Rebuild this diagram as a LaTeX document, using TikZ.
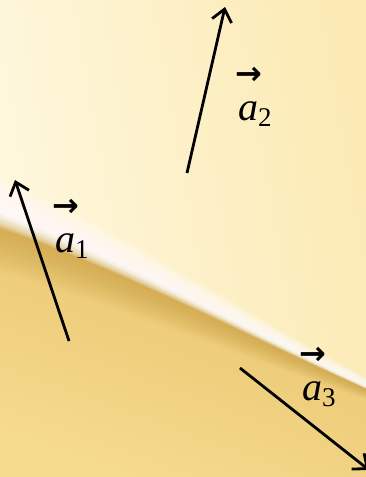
\documentclass[tikz,border=0pt]{standalone}
\usepackage{fontspec}
\setmainfont{Liberation Serif}
\newfontfamily\arrowfont{DejaVu Sans}
\usetikzlibrary{arrows.meta}
\definecolor{creamlight}{HTML}{FFF8E0}
\definecolor{creamyellow}{HTML}{FBEAB4}
\definecolor{goldtop}{HTML}{E6C26A}
\definecolor{goldbottom}{HTML}{F6DA8E}
\definecolor{golddark}{HTML}{C99E42}
\tikzstyle{vecarrow} = [line width=2.8pt, -{Straight Barb[length=12pt,width=20pt]}]
\tikzstyle{veclabel} = [anchor=base west, inner sep=0pt, font=\fontsize{40}{44}\selectfont]
\newcommand{\veclab}[1]{\rlap{\hspace{-3pt}\raisebox{36pt}{\arrowfont\bfseries\fontsize{32}{36}\selectfont →}}\textit{a}\raisebox{-6pt}{\fontsize{27}{30}\selectfont #1}}

\begin{document}
\begin{tikzpicture}[x=1pt, y=-1pt]

% Background
\useasboundingbox (0,0) rectangle (366,477);
\clip (0,0) rectangle (366,477);
\shade[left color=creamlight, right color=creamyellow, shading angle=100] (0,0) rectangle (366,477);
\shade[top color=goldtop, bottom color=goldbottom, shading angle=-20]
  (0,214) .. controls (120,258) and (250,332) .. (366,386) -- (366,477) -- (0,477) -- cycle;
% dark band under the streak
\foreach \d in {3,6,...,54}
  \fill[golddark, opacity=0.05]
    (0,218) .. controls (120,262) and (250,335) .. (366,388)
    -- (366,388+\d*0.2) .. controls (250,335+\d*0.45) and (120,262+\d*0.8) .. (0,218+\d) -- cycle;
% white streak
\foreach \d in {2,4,...,36}
  \fill[white, opacity=0.1]
    (0,214+\d*0.4) .. controls (120,258+\d*0.3) and (250,332+\d*0.15) .. (366,386+\d*0.08)
    -- (366,386-\d*0.25) .. controls (250,332-\d*0.45) and (120,258-\d*0.8) .. (0,214-\d) -- cycle;

% Vector a1
\coordinate (a1tail) at (69,341);
\coordinate (a1tip) at (15,180);
\draw [vecarrow] (a1tail) -- (a1tip);
\node (a1label) [veclabel] at (55,252) {\veclab{1}};

% Vector a2
\coordinate (a2tail) at (187,173);
\coordinate (a2tip) at (225,7);
\draw [vecarrow] (a2tail) -- (a2tip);
\node (a2label) [veclabel] at (238,120) {\veclab{2}};

% Vector a3
\coordinate (a3tail) at (240,368);
\coordinate (a3tip) at (369,470);
\draw [vecarrow] (a3tail) -- (a3tip);
\node (a3label) [veclabel] at (302,400) {\veclab{3}};

\end{tikzpicture}
\end{document}
